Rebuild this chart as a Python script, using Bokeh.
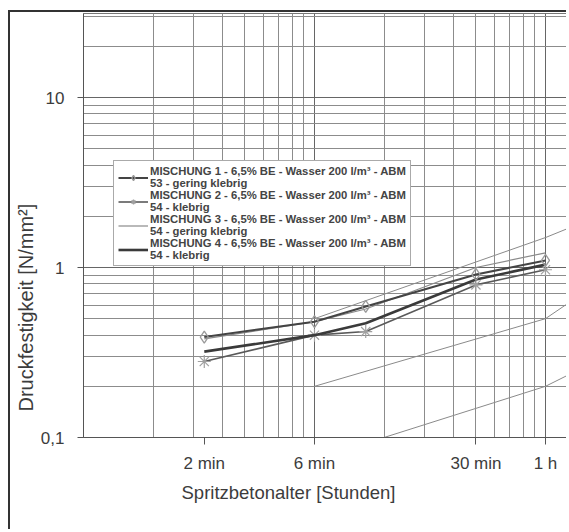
import math
from bokeh.plotting import figure
from bokeh.models import Range1d, FixedTicker, Legend, LegendItem, Title
from bokeh.embed import file_html
from bokeh.resources import INLINE

# ---- data ----
age_min = [2, 6, 10, 30, 60]                      # Spritzbetonalter in minutes
mix1 = [0.39, 0.48, 0.59, 0.91, 1.10]             # MISCHUNG 1 (diamond)
mix2 = [0.28, 0.40, 0.42, 0.79, 0.97]             # MISCHUNG 2 (star)
mix3 = [0.38, 0.48, 0.57, 1.00, 1.22]             # MISCHUNG 3 (thin grey)
mix4 = [0.32, 0.40, 0.47, 0.85, 1.04]             # MISCHUNG 4 (thick)

labels = [
    "MISCHUNG 1 - 6,5% BE - Wasser 200 l/m\u00b3 - ABM\n53 - gering klebrig",
    "MISCHUNG 2 - 6,5% BE - Wasser 200 l/m\u00b3 - ABM\n54 - klebrig",
    "MISCHUNG 3 - 6,5% BE - Wasser 200 l/m\u00b3 - ABM\n54 - gering klebrig",
    "MISCHUNG 4 - 6,5% BE - Wasser 200 l/m\u00b3 - ABM\n54 - klebrig",
]

# boundary curves (J-classes)
j_low_min = [12, 60, 120]
j_low = [0.10, 0.20, 0.32]
j_mid_min = [6, 60, 120]
j_mid = [0.20, 0.50, 0.95]
j_up_min = [6, 60, 120]
j_up = [0.50, 1.50, 2.20]

x_tick_min = [2, 6, 30, 60]
x_tick_labels = ["2 min", "6 min", "30 min", "1 h"]
y_ticks = [0.1, 1, 10]
y_tick_labels = ["0,1", "1", "10"]

def hours(mins):
    return [m / 60.0 for m in mins]

x = hours(age_min)

FONT = "Liberation Sans"
TXT = "#3c3c3c"

p = figure(width=558, height=519, x_axis_type="log", y_axis_type="log",
           x_range=Range1d(0.01, 1.258), y_range=Range1d(0.1, 31.2),
           output_backend="svg", toolbar_location=None,
           min_border_left=73, min_border_right=0, min_border_top=1,
           min_border_bottom=94,
           styles={"margin-left": "8px", "margin-top": "10px",
                   "border-left": "2px solid #333", "border-top": "2px solid #333"})
p.background_fill_color = "white"
p.border_fill_color = "white"
p.outline_line_color = "#777"

# grid
p.xgrid.ticker = FixedTicker(ticks=[0.01, 0.1, 1, 10],
                             minor_ticks=[k * 0.01 for k in range(2, 10)] +
                                         [k * 0.1 for k in range(2, 10)] +
                                         [float(k) for k in range(2, 10)])
p.ygrid.ticker = FixedTicker(ticks=[0.1, 1, 10, 100],
                             minor_ticks=[k * 0.1 for k in range(2, 10)] +
                                         [float(k) for k in range(2, 10)] +
                                         [float(k * 10) for k in range(2, 10)])
for g in (p.xgrid, p.ygrid):
    g.grid_line_color = "#666"
    g.grid_line_width = 1
    g.minor_grid_line_color = "#8c8c8c"
    g.minor_grid_line_width = 1

# axes
xa = p.xaxis[0]
xa.ticker = FixedTicker(ticks=hours(x_tick_min))
xa.major_label_overrides = {t: l for t, l in zip(hours(x_tick_min), x_tick_labels)}
ya = p.yaxis[0]
ya.ticker = FixedTicker(ticks=y_ticks)
ya.major_label_overrides = {t: l for t, l in zip(y_ticks, y_tick_labels)}
for a in (xa, ya):
    a.axis_line_color = "#555"
    a.major_tick_line_color = "#555"
    a.major_tick_in = 0
    a.minor_tick_in = 0
    a.minor_tick_out = 0
    a.major_label_text_font = FONT
    a.major_label_text_font_size = "17px"
    a.major_label_text_color = TXT
xa.major_tick_out = 7
xa.major_label_standoff = 9
ya.major_tick_out = 6
ya.major_label_standoff = 13

# boundary curves
for mins, vals in ((j_low_min, j_low), (j_mid_min, j_mid), (j_up_min, j_up)):
    p.line(hours(mins), vals, line_color="#8a8a8a", line_width=1)

# series
r3 = p.line(x, mix3, line_color="#8a8a8a", line_width=1.2)
r2 = p.line(x, mix2, line_color="#5a5a5a", line_width=1.6)
r2m = p.scatter(x, mix2, marker="asterisk", size=13, line_color="#a0a0a0", line_width=1.2)
r4 = p.line(x, mix4, line_color="#3a3a3a", line_width=2.6)
r1 = p.line(x, mix1, line_color="#444", line_width=2)
r1m = p.scatter(x, mix1, marker="diamond", size=12, fill_color=None,
                line_color="#9a9a9a", line_width=1.3)

legend = Legend(items=[
    LegendItem(label=labels[0], renderers=[r1, r1m]),
    LegendItem(label=labels[1], renderers=[r2, r2m]),
    LegendItem(label=labels[2], renderers=[r3]),
    LegendItem(label=labels[3], renderers=[r4]),
], location=(30, 171))
legend.label_text_font = FONT
legend.label_text_font_style = "bold"
legend.label_text_font_size = "11.3px"
legend.label_text_color = "#444"
legend.label_text_line_height = 1.17
legend.glyph_width = 30
legend.glyph_height = 13
legend.label_height = 13
legend.label_standoff = 2
legend.padding = 4
legend.spacing = 0
legend.margin = 0
legend.border_line_color = "#555"
legend.border_line_width = 1
legend.background_fill_color = "white"
legend.background_fill_alpha = 1
p.add_layout(legend)

# axis titles
p.add_layout(Title(text="Spritzbetonalter [Stunden]", align="left", offset=98,
                   text_font=FONT, text_font_size="18.5px", text_font_style="normal",
                   text_color=TXT, standoff=8), "below")
p.add_layout(Title(text="Druckfestigkeit [N/mm\u00b2]", align="left", offset=26,
                   text_font=FONT, text_font_size="20px", text_font_style="normal",
                   text_color=TXT, standoff=1), "left")

open("out.html", "w").write(file_html(p, INLINE))
